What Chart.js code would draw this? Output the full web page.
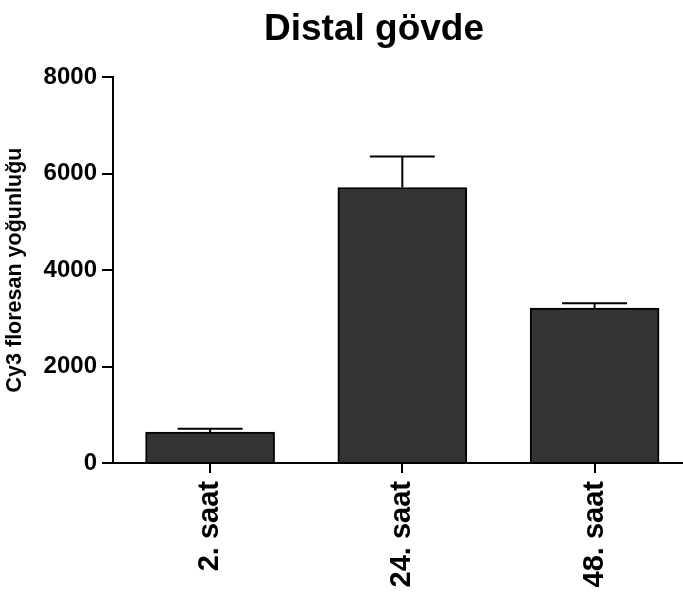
<!DOCTYPE html>
<html>
<head>
<meta charset="utf-8">
<script src="https://cdn.jsdelivr.net/npm/chart.js@4.4.1/dist/chart.umd.min.js"></script>
<style>
  html, body { margin: 0; padding: 0; background: #fff; overflow: hidden; }
</style>
</head>
<body>
<canvas id="myChart" width="683" height="601"></canvas>
<script>
const labels = ['2. saat', '24. saat', '48. saat'];
const means = [640, 5710, 3210];
const errors = [70, 640, 100];
const yTicks = [0, 2000, 4000, 6000, 8000];

const titleText = 'Distal gövde';
const fontFamily = '"Liberation Sans", Arial, Helvetica, sans-serif';

// title drawn slightly left of chart-area centre, like the source figure
const titlePlugin = {
    id: 'plotTitle',
    afterDraw(chart) {
        const c = chart.ctx;
        c.save();
        c.font = 'bold 37px ' + fontFamily;
        c.fillStyle = '#000';
        c.textAlign = 'center';
        c.textBaseline = 'alphabetic';
        c.fillText(titleText, 374, 40);
        c.restore();
    }
};

// upward-only error bars with a cap
const errorBars = {
    id: 'errorBars',
    afterDatasetsDraw(chart) {
        const c = chart.ctx;
        const x = chart.scales.x;
        const y = chart.scales.y;
        c.save();
        c.strokeStyle = '#000';
        c.lineWidth = 2;
        means.forEach((m, i) => {
            const px = x.getPixelForValue(i);
            const top = y.getPixelForValue(m + errors[i]);
            const base = y.getPixelForValue(m);
            c.beginPath();
            c.moveTo(px, base);
            c.lineTo(px, top);
            c.moveTo(px - 32.5, top);
            c.lineTo(px + 32.5, top);
            c.stroke();
        });
        c.restore();
    }
};

const ctx = document.getElementById('myChart');

const chart = new Chart(ctx, {
    type: 'bar',
    data: {
        datasets: [{
            data: means.map((v, i) => ({ x: i, y: v })),
            backgroundColor: '#333333',
            borderColor: '#000000',
            borderWidth: 2,
            barThickness: 129,
        }]
    },
    options: {
        responsive: false,
        animation: false,
        devicePixelRatio: 1,
        layout: { padding: { top: 77, left: 0, right: 0, bottom: 0 } },
        plugins: {
            legend: { display: false },
            tooltip: { enabled: false },
            title: { display: false },
        },
        scales: {
            x: {
                type: 'linear',
                min: -0.505,
                max: 2.46,
                offset: false,
                afterBuildTicks: (scale) => {
                    scale.ticks = labels.map((_, i) => ({ value: i }));
                },
                afterFit: (scale) => { scale.height = 138; },
                grid: {
                    offset: false,
                    drawOnChartArea: false,
                    drawTicks: true,
                    tickLength: 10,
                    color: '#000',
                    lineWidth: 2,
                },
                border: { color: '#000', width: 2 },
                ticks: {
                    autoSkip: false,
                    minRotation: 90,
                    maxRotation: 90,
                    padding: 8,
                    color: '#000',
                    font: { family: fontFamily, size: 29, weight: 'bold' },
                    callback: (v) => labels[v],
                },
            },
            y: {
                min: 0,
                max: 8000,
                afterBuildTicks: (scale) => {
                    scale.ticks = yTicks.map((v) => ({ value: v }));
                },
                afterFit: (scale) => { scale.width = 113; },
                grid: {
                    drawOnChartArea: false,
                    drawTicks: true,
                    tickLength: 11,
                    color: '#000',
                    lineWidth: 2,
                },
                border: { color: '#000', width: 2 },
                ticks: {
                    padding: 5,
                    color: '#000',
                    font: { family: fontFamily, size: 24, weight: 'bold' },
                    callback: (v) => String(v),
                },
                title: {
                    display: true,
                    text: 'Cy3 floresan yoğunluğu',
                    color: '#000',
                    padding: { top: 2, bottom: 0 },
                    font: { family: fontFamily, size: 21.5, weight: 'bold' },
                },
            },
        },
    },
    plugins: [titlePlugin, errorBars],
});
</script>
</body>
</html>
